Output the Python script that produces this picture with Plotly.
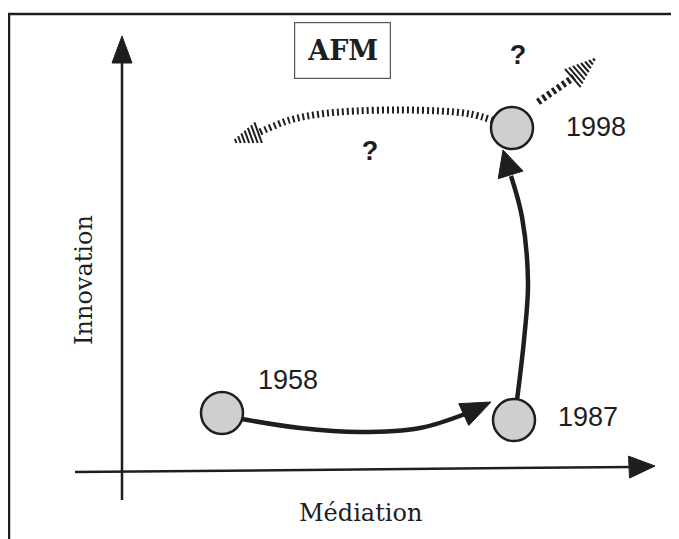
import numpy as np
import plotly.graph_objects as go

# ---- data (Médiation = x, Innovation = y) ----
years = ["1958", "1987", "1998"]
mediation = [100, 392, 390]
innovation = [57, 50, 342]

path_a_x = [120, 178, 238, 298, 343]          # 1958 -> 1987
path_a_y = [51, 42, 38, 42, 56]
tip_a = (369, 68)
path_b_x = [395, 402, 406, 400, 389]          # 1987 -> 1998
path_b_y = [70, 130, 187, 253, 294]
tip_b = (381, 320)
arc_x = [138, 168, 198, 233, 278, 318, 348, 370]   # dotted "?" arc
arc_y = [338, 350, 356, 359, 360, 359, 356, 350]
tip_arc = (108, 327)
exit_x = [416, 452]                             # dotted exit arrow
exit_y = [368, 393]
tip_exit = (475, 413)
question_x = [248, 396]
question_y = [317, 413]

vaxis_x, vaxis_y = [0, 0], [-30, 412]
tip_v = (0, 434)
haxis_x, haxis_y = [-47, 510], [-2, 3]
tip_h = (533, 4)
frame_x, frame_y = [-113, -113, 557], [-69, 456, 456]

INK = "#1e1e1e"


def geom(tip, tail, length):
    tip = np.array(tip, float)
    tail = np.array(tail, float)
    d = tip - tail
    d /= np.linalg.norm(d)
    p = np.array([-d[1], d[0]])
    return tip, d, p, tip - d * length


def head(tip, tail, length, half):
    tip, d, p, base = geom(tip, tail, length)
    a = base + p * half
    b = base - p * half
    return [tip[0], a[0], b[0], tip[0]], [tip[1], a[1], b[1], tip[1]]


fig = go.Figure()


def line(x, y, width, dash="solid", shape="linear"):
    fig.add_trace(go.Scatter(x=x, y=y, mode="lines", hoverinfo="skip",
                             line=dict(color=INK, width=width, dash=dash,
                                       shape=shape, smoothing=1.0)))


def solid_head(tip, tail, length, half):
    hx, hy = head(tip, tail, length, half)
    fig.add_trace(go.Scatter(x=hx, y=hy, mode="lines", fill="toself",
                             fillcolor=INK, line=dict(color=INK, width=1),
                             hoverinfo="skip"))


def hatched_head(tip, tail, length, half, step=4.0):
    tip, d, p, base = geom(tip, tail, length)
    xs, ys = [], []
    for s in np.arange(0, length - 2, step):
        c = base + d * s
        h = half * (1 - s / length)
        a, b = c + p * h, c - p * h
        xs += [a[0], b[0], None]
        ys += [a[1], b[1], None]
    fig.add_trace(go.Scatter(x=xs, y=ys, mode="lines", hoverinfo="skip",
                             line=dict(color=INK, width=2)))


# frame
line(frame_x, frame_y, 2.5)
# axes
line(vaxis_x, vaxis_y, 2.5)
solid_head(tip_v, (vaxis_x[-1], vaxis_y[-1]), 27, 10)
line(haxis_x, haxis_y, 2.5)
solid_head(tip_h, (haxis_x[-1], haxis_y[-1]), 26, 11)

# dotted arc and exit arrow
line(arc_x, arc_y, 7, dash="2px,3px", shape="spline")
hatched_head(tip_arc, (arc_x[0], arc_y[0]), 30, 11)
line(exit_x, exit_y, 7, dash="3px,3px")
hatched_head(tip_exit, (exit_x[-1], exit_y[-1]), 32, 12)

# solid arrows
line(path_a_x, path_a_y, 4.5, shape="spline")
solid_head(tip_a, (path_a_x[-1], path_a_y[-1]), 30, 12)
line(path_b_x, path_b_y, 4.5, shape="spline")
solid_head(tip_b, (path_b_x[-1], path_b_y[-1]), 26, 13)

# nodes
fig.add_trace(go.Scatter(x=mediation, y=innovation, mode="markers",
                         hoverinfo="skip",
                         marker=dict(size=42, color="#cfcfcf",
                                     line=dict(color=INK, width=2.5))))

# question marks
fig.add_trace(go.Scatter(x=question_x, y=question_y, mode="text",
                         text=["?", "?"], hoverinfo="skip",
                         textfont=dict(family="Liberation Sans", size=27,
                                       color=INK, weight="bold")))

shifts = [(66, 33), (74, 3), (84, 1)]
for yr, x, y, (dx, dy) in zip(years, mediation, innovation, shifts):
    fig.add_annotation(x=x, y=y, text=yr, showarrow=False, xshift=dx, yshift=dy,
                       font=dict(family="Liberation Sans", size=27, color=INK))

fig.add_annotation(x=220, y=420, text="<b>AFM</b>", showarrow=False,
                   font=dict(family="DejaVu Serif", size=27, color=INK),
                   bordercolor="#555555", borderwidth=1.2, borderpad=12)
fig.add_annotation(x=-38, y=190, text="Innovation", textangle=-90, showarrow=False,
                   font=dict(family="DejaVu Serif", size=24, color=INK))
fig.add_annotation(x=238, y=-43, text="Médiation", showarrow=False,
                   font=dict(family="DejaVu Serif", size=24, color=INK))

# the page adds an 8 px body margin: the figure covers window pixels 8..679 / 8..539
fig.update_layout(width=671, height=531, autosize=False,
                  margin=dict(l=0, r=0, t=0, b=0),
                  paper_bgcolor="white", plot_bgcolor="white",
                  showlegend=False,
                  xaxis=dict(range=[-114, 557], visible=False, fixedrange=True),
                  yaxis=dict(range=[-69, 462], visible=False, fixedrange=True))

fig.write_html("out.html")
